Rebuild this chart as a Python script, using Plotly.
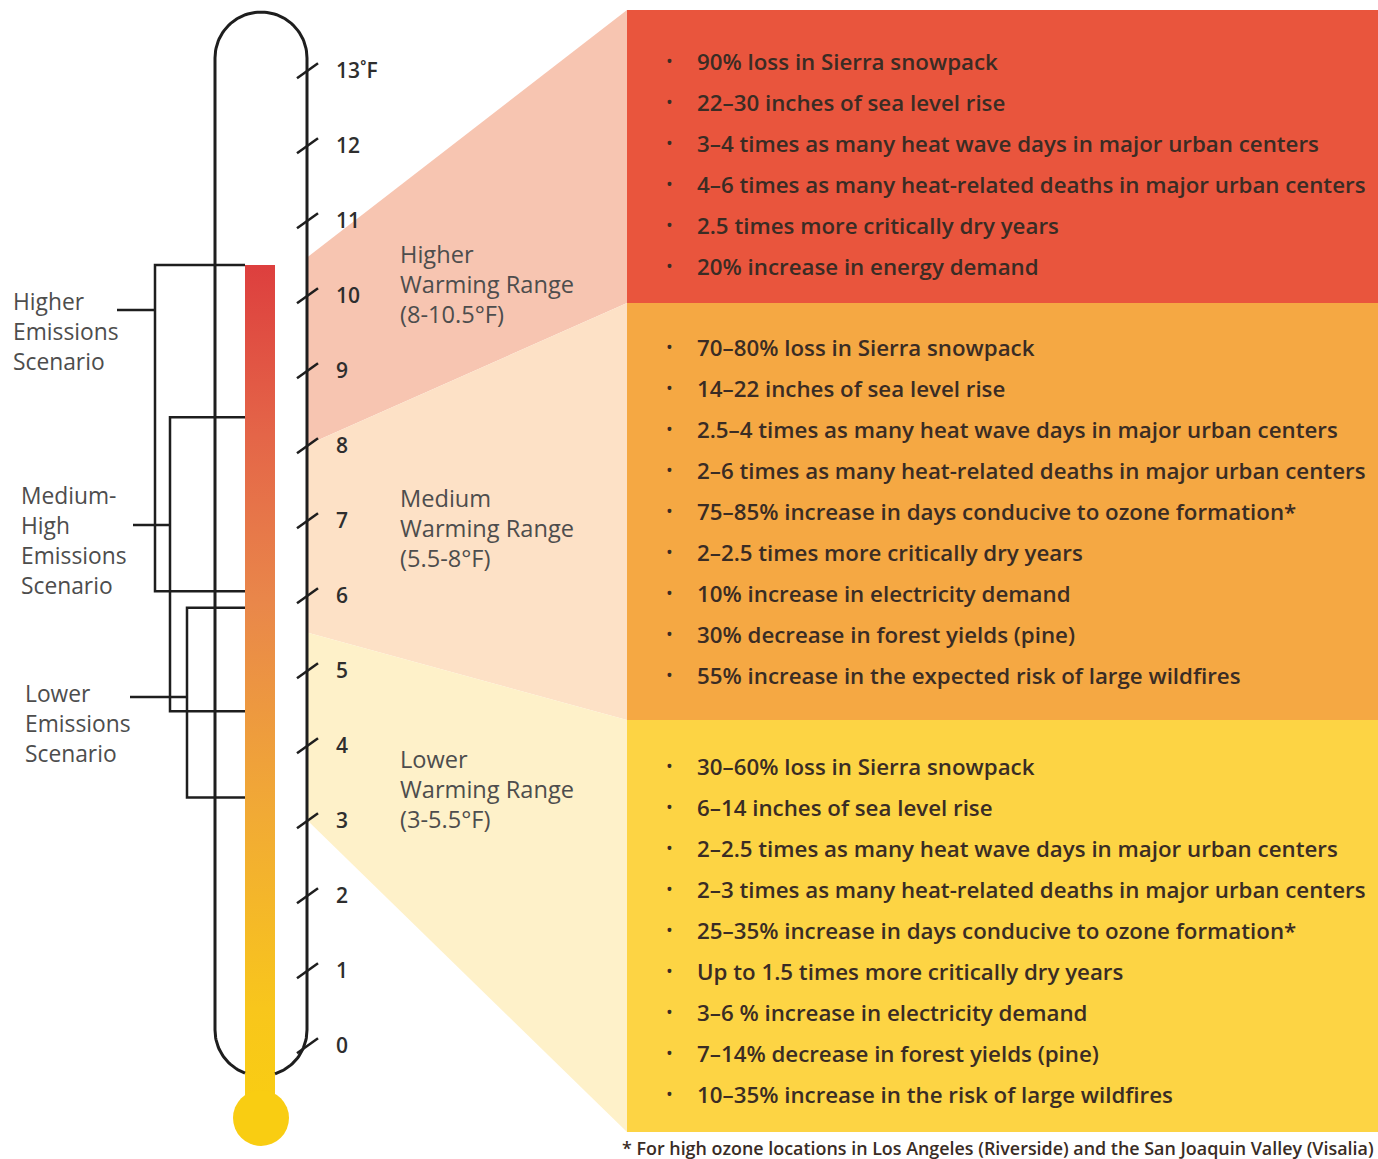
import numpy as np
import plotly.graph_objects as go

# ---------------- data ----------------
tick_values = list(range(0, 14))
tick_labels = [str(v) for v in range(13)] + ["13˚F"]

mercury_top = 10.4          # °F reached by the thermometer column

scenario_names = [["Higher", "Emissions", "Scenario"],
                  ["Medium-", "High", "Emissions", "Scenario"],
                  ["Lower", "Emissions", "Scenario"]]
scenario_low = [6.05, 4.45, 3.3]
scenario_high = [10.4, 8.37, 5.83]

range_titles = [["Higher", "Warming Range", "(8-10.5°F)"],
                ["Medium", "Warming Range", "(5.5-8°F)"],
                ["Lower", "Warming Range", "(3-5.5°F)"]]
range_low = [8, 5.5, 3]
range_high = [10.5, 8, 5.5]

impacts_higher = [
    "90% loss in Sierra snowpack",
    "22–30 inches of sea level rise",
    "3–4 times as many heat wave days in major urban centers",
    "4–6 times as many heat-related deaths in major urban centers",
    "2.5 times more critically dry years",
    "20% increase in energy demand",
]
impacts_medium = [
    "70–80% loss in Sierra snowpack",
    "14–22 inches of sea level rise",
    "2.5–4 times as many heat wave days in major urban centers",
    "2–6 times as many heat-related deaths in major urban centers",
    "75–85% increase in days conducive to ozone formation*",
    "2–2.5 times more critically dry years",
    "10% increase in electricity demand",
    "30% decrease in forest yields (pine)",
    "55% increase in the expected risk of large wildfires",
]
impacts_lower = [
    "30–60% loss in Sierra snowpack",
    "6–14 inches of sea level rise",
    "2–2.5 times as many heat wave days in major urban centers",
    "2–3 times as many heat-related deaths in major urban centers",
    "25–35% increase in days conducive to ozone formation*",
    "Up to 1.5 times more critically dry years",
    "3–6 % increase in electricity demand",
    "7–14% decrease in forest yields (pine)",
    "10–35% increase in the risk of large wildfires",
]
footnote = "* For high ozone locations in Los Angeles (Riverside) and the San Joaquin Valley (Visalia)"

# ---------------- layout constants ----------------
W, H = 1378, 1159
PX0, PPD = 1045.0, 75.0          # pixel row of 0°F, pixels per °F


def T(py):
    """pixel row -> temperature axis units (layout helper)"""
    return (PX0 - py) / PPD


FONT = "Open Sans"
TXT = "#3a2c24"
GRAY = "#4d4d4d"
LINE = "#1e1e1e"

TUBE_L, TUBE_R, TUBE_C, RAD = 215, 307, 261, 46
MERC_L, MERC_R = 245, 275
PANEL_L, PANEL_R = 627, W

panel_colors = ["#e9553d", "#f5a843", "#fdd444"]
band_colors = ["#f7c5b1", "#fde1c6", "#fef1c9"]
panel_tops = [10, 303, 720]
panel_bots = [303, 720, 1132]
impacts = [impacts_higher, impacts_medium, impacts_lower]
first_rows = [61, 347, 766]
ROW = 41

fig = go.Figure()
shapes = []
annotations = []

# --- warming range bands (fan from thermometer to panels) ---
for i in range(3):
    xs = [TUBE_R, PANEL_L, PANEL_L, TUBE_R]
    ys = [range_high[i], T(panel_tops[i]), T(panel_bots[i]), range_low[i]]
    fig.add_trace(go.Scatter(x=xs, y=ys, fill="toself", fillcolor=band_colors[i],
                             line=dict(width=0), mode="lines", hoverinfo="skip"))

# --- panels ---
for i in range(3):
    shapes.append(dict(type="rect", xref="x", yref="y", x0=PANEL_L, x1=PANEL_R,
                       y0=T(panel_bots[i]), y1=T(panel_tops[i]),
                       fillcolor=panel_colors[i], line=dict(width=0), layer="below"))
    for k, item in enumerate(impacts[i]):
        yy = T(first_rows[i] + k * ROW)
        annotations.append(dict(x=664, y=yy, xref="x", yref="y", text="•", showarrow=False,
                                xanchor="left", yanchor="middle",
                                font=dict(family=FONT, size=18, color=TXT)))
        annotations.append(dict(x=695, y=yy, xref="x", yref="y", text=item, showarrow=False,
                                xanchor="left", yanchor="middle",
                                font=dict(family=FONT, size=22.3, color=TXT, weight=600)))

# --- mercury column with gradient ---
fig.add_trace(go.Scatter(
    x=[MERC_L, MERC_R, MERC_R, MERC_L, MERC_L],
    y=[T(1110), T(1110), mercury_top, mercury_top, T(1110)],
    fill="toself", mode="lines", line=dict(width=0), hoverinfo="skip",
    fillgradient=dict(type="vertical",
                      colorscale=[[0, "#f9cd12"], [0.12, "#f8c61c"], [0.35, "#f1aa35"],
                                  [0.6, "#e9874a"], [0.8, "#e46548"], [1, "#dd3f3e"]])))
shapes.append(dict(type="circle", xref="x", yref="y", x0=TUBE_C - 28, x1=TUBE_C + 28,
                   y0=T(1146), y1=T(1090), fillcolor="#f9cd12", line=dict(width=0)))

# --- thermometer outline ---
top_cy = 58
a = np.linspace(np.pi, 0, 60)
top_x = TUBE_C + RAD * np.cos(a)
top_y = T(top_cy - RAD * np.sin(a))
bot_cy = 1030
theta_end = np.arccos((MERC_L - TUBE_C) / RAD)
ang = np.linspace(np.pi, theta_end, 30)
lb_x = TUBE_C + RAD * np.cos(ang)
lb_y = T(bot_cy + RAD * np.sin(ang))
ang2 = np.linspace(0, np.arccos((MERC_R - TUBE_C) / RAD), 30)
rb_x = TUBE_C + RAD * np.cos(ang2)
rb_y = T(bot_cy + RAD * np.sin(ang2))

out_x = list(lb_x[::-1]) + list(top_x) + list(rb_x)
out_y = list(lb_y[::-1]) + list(top_y) + list(rb_y)
fig.add_trace(go.Scatter(x=out_x, y=out_y, mode="lines",
                         line=dict(color=LINE, width=3), hoverinfo="skip"))

# --- ticks and tick labels ---
for v, lab in zip(tick_values, tick_labels):
    fig.add_trace(go.Scatter(x=[297, 318], y=[v - 0.11, v + 0.09], mode="lines",
                             line=dict(color=LINE, width=2.5), hoverinfo="skip"))
    annotations.append(dict(x=334, y=v, xref="x", yref="y", text=lab, showarrow=False,
                            xanchor="left", yanchor="middle",
                            font=dict(family=FONT, size=21, color="#2e2e2e", weight=600)))

# --- scenario brackets ---
br_x = [155, 170, 187]
conn_x0 = [117, 133, 130]
conn_py = [310, 525, 697]
for i in range(3):
    fig.add_trace(go.Scatter(
        x=[MERC_L, br_x[i], br_x[i], MERC_L],
        y=[scenario_high[i], scenario_high[i], scenario_low[i], scenario_low[i]],
        mode="lines", line=dict(color=LINE, width=2.5), hoverinfo="skip"))
    fig.add_trace(go.Scatter(x=[conn_x0[i], br_x[i]], y=[T(conn_py[i]), T(conn_py[i])],
                             mode="lines", line=dict(color=LINE, width=2.5), hoverinfo="skip"))

# --- scenario labels ---
lab_x = [11, 19, 23]
lab_py = [301, 495, 693]
for i in range(3):
    for k, line in enumerate(scenario_names[i]):
        annotations.append(dict(x=lab_x[i], y=T(lab_py[i] + 30 * k), xref="x", yref="y",
                                text=line, showarrow=False, xanchor="left", yanchor="middle",
                                font=dict(family=FONT, size=22.8, color=GRAY)))

# --- warming range labels ---
wr_py = [254, 498, 759]
for i in range(3):
    for k, line in enumerate(range_titles[i]):
        annotations.append(dict(x=398, y=T(wr_py[i] + 30 * k), xref="x", yref="y",
                                text=line, showarrow=False, xanchor="left", yanchor="middle",
                                font=dict(family=FONT, size=23.6, color=GRAY)))

# --- footnote ---
annotations.append(dict(x=W - 2, y=T(1148), xref="x", yref="y", text=footnote, showarrow=False,
                        xanchor="right", yanchor="middle",
                        font=dict(family=FONT, size=17.9, color=TXT, weight=600)))

fig.update_layout(
    width=W, height=H, margin=dict(l=0, r=0, t=0, b=0),
    paper_bgcolor="white", plot_bgcolor="white", showlegend=False,
    xaxis=dict(range=[0, W], visible=False, fixedrange=True),
    yaxis=dict(range=[T(H), T(0)], visible=False, fixedrange=True),
    shapes=shapes, annotations=annotations,
)

fig.write_html("out.html", config={"displayModeBar": False},
               post_script="document.body.style.margin='0';document.body.style.overflow='hidden';")
